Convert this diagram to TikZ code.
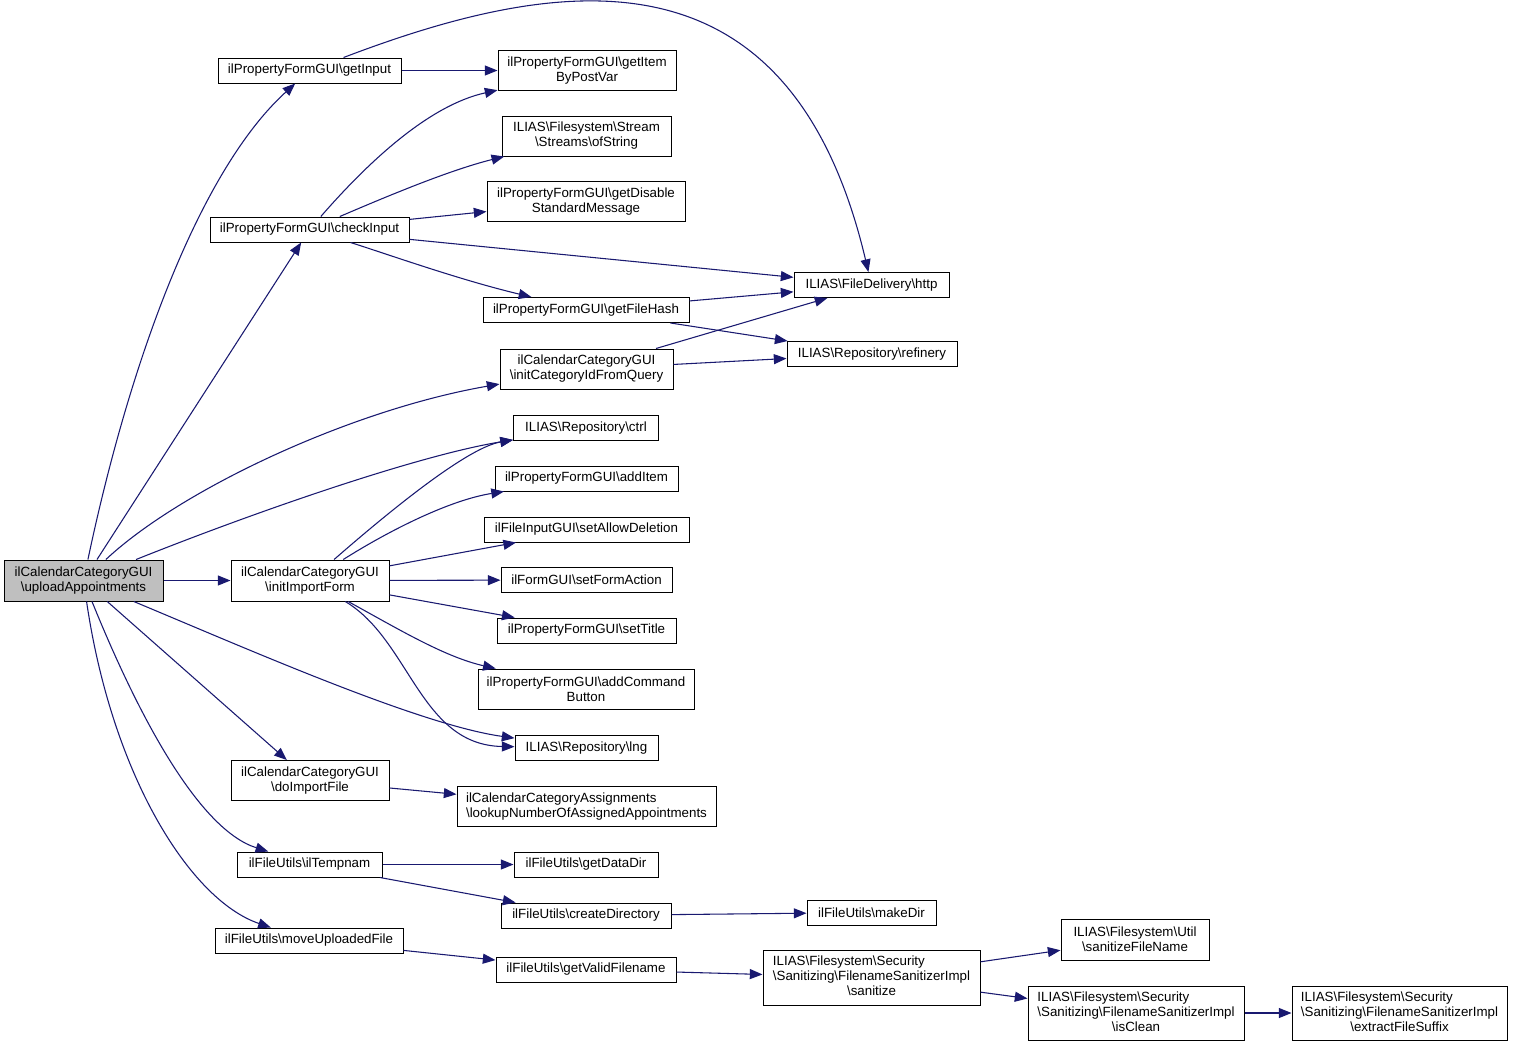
\documentclass[tikz,border=0pt]{standalone}
\usepackage{fontspec}
\setmainfont{Liberation Sans}
\usetikzlibrary{arrows.meta}
\definecolor{edgeblue}{HTML}{191970}
\newcommand{\bsl}{\textbackslash}
\newcommand{\threeln}[3]{\begin{tabular}{@{}l@{}}#1\\#2\\\multicolumn{1}{@{}c@{}}{#3}\end{tabular}}
\tikzstyle{fn_node} = [
    draw=black,
    fill=white,
    text=black,
    line width=0.75pt,
    font=\fontsize{10pt}{11.25pt}\selectfont,
    align=center,
    inner sep=2pt % boxes get their size from minimum width/height
]
\tikzstyle{cur_node} = [
    fn_node,
    fill=black!25
]
\tikzstyle{call} = [
    draw=edgeblue,
    line width=0.8pt,
    -{Triangle[length=9.5pt, width=7.5pt]}
]
\begin{document}
\begin{tikzpicture}[x=0.75pt, y=-0.75pt]
\fill[white] (0,0) rectangle (1513,1047);
\useasboundingbox (0,0) rectangle (1513,1047);

% column 1
\node [cur_node, minimum width=119.25pt, minimum height=30.75pt] (upload) at (83.5,580.5) {ilCalendarCategoryGUI\\\bsl uploadAppointments};

% column 2
\node [fn_node, minimum width=137.25pt, minimum height=18.75pt] (getInput) at (309.5,70.5) {ilPropertyFormGUI\bsl getInput};
\node [fn_node, minimum width=149.25pt, minimum height=18.75pt] (checkInput) at (309.5,229.5) {ilPropertyFormGUI\bsl checkInput};
\node [fn_node, minimum width=118.5pt, minimum height=30.75pt] (initImport) at (310,580.5) {ilCalendarCategoryGUI\\\bsl initImportForm};
\node [fn_node, minimum width=118.5pt, minimum height=30pt] (doImport) at (310,780.5) {ilCalendarCategoryGUI\\\bsl doImportFile};
\node [fn_node, minimum width=108.75pt, minimum height=18.75pt] (tempnam) at (309.5,864.5) {ilFileUtils\bsl ilTempnam};
\node [fn_node, minimum width=141pt, minimum height=18.75pt] (moveFile) at (309,940.5) {ilFileUtils\bsl moveUploadedFile};

% column 3
\node [fn_node, minimum width=133.5pt, minimum height=30pt] (getItem) at (587,70.5) {ilPropertyFormGUI\bsl getItem\\ByPostVar};
\node [fn_node, minimum width=126.75pt, minimum height=30pt] (ofString) at (586.5,136) {ILIAS\bsl Filesystem\bsl Stream\\\bsl Streams\bsl ofString};
\node [fn_node, minimum width=148.5pt, minimum height=30pt] (getDisable) at (586,201.5) {ilPropertyFormGUI\bsl getDisable\\StandardMessage};
\node [fn_node, minimum width=154.5pt, minimum height=18.75pt] (getFileHash) at (586,310) {ilPropertyFormGUI\bsl getFileHash};
\node [fn_node, minimum width=129.75pt, minimum height=30pt] (initCatId) at (586.5,369) {ilCalendarCategoryGUI\\\bsl initCategoryIdFromQuery};
\node [fn_node, minimum width=108.75pt, minimum height=18.75pt] (ctrl) at (586,428) {ILIAS\bsl Repository\bsl ctrl};
\node [fn_node, minimum width=137.25pt, minimum height=18.75pt] (addItem) at (586.5,478.5) {ilPropertyFormGUI\bsl addItem};
\node [fn_node, minimum width=153.75pt, minimum height=18.75pt] (setAllowDel) at (586.5,529.5) {ilFileInputGUI\bsl setAllowDeletion};
\node [fn_node, minimum width=128.25pt, minimum height=18.75pt] (setFormAction) at (586.5,580) {ilFormGUI\bsl setFormAction};
\node [fn_node, minimum width=134.25pt, minimum height=18.75pt] (setTitle) at (586.5,630.5) {ilPropertyFormGUI\bsl setTitle};
\node [fn_node, minimum width=162pt, minimum height=30pt] (addCmdBtn) at (586,689) {ilPropertyFormGUI\bsl addCommand\\Button};
\node [fn_node, minimum width=107.25pt, minimum height=18.75pt] (lng) at (586.5,748) {ILIAS\bsl Repository\bsl lng};
\node [fn_node, minimum width=194.25pt, minimum height=30pt, align=left] (lookupNum) at (586.5,806.5) {ilCalendarCategoryAssignments\\\bsl lookupNumberOfAssignedAppointments};
\node [fn_node, minimum width=108pt, minimum height=18.75pt] (getDataDir) at (586,864.5) {ilFileUtils\bsl getDataDir};
\node [fn_node, minimum width=127.5pt, minimum height=18.75pt] (createDir) at (586,915.5) {ilFileUtils\bsl createDirectory};
\node [fn_node, minimum width=135pt, minimum height=18.75pt] (getValidName) at (586,969.5) {ilFileUtils\bsl getValidFilename};

% column 4
\node [fn_node, minimum width=116.25pt, minimum height=18.75pt] (http) at (871.5,285) {ILIAS\bsl FileDelivery\bsl http};
\node [fn_node, minimum width=127.5pt, minimum height=18.75pt] (refinery) at (872,354) {ILIAS\bsl Repository\bsl refinery};
\node [fn_node, minimum width=96.75pt, minimum height=18.75pt] (makeDir) at (871.5,912.5) {ilFileUtils\bsl makeDir};
\node [fn_node, minimum width=162.75pt, minimum height=41.25pt] (sanitize) at (871.5,977.5) {\threeln{ILIAS\bsl Filesystem\bsl Security}{\bsl Sanitizing\bsl FilenameSanitizerImpl}{\bsl sanitize}};

% column 5 and 6
\node [fn_node, minimum width=111pt, minimum height=30.75pt] (sanitizeName) at (1135,939.5) {ILIAS\bsl Filesystem\bsl Util\\\bsl sanitizeFileName};
\node [fn_node, minimum width=162pt, minimum height=40.5pt] (isClean) at (1136,1013) {\threeln{ILIAS\bsl Filesystem\bsl Security}{\bsl Sanitizing\bsl FilenameSanitizerImpl}{\bsl isClean}};
\node [fn_node, minimum width=161.25pt, minimum height=40.5pt] (extractSuffix) at (1399.5,1013) {\threeln{ILIAS\bsl Filesystem\bsl Security}{\bsl Sanitizing\bsl FilenameSanitizerImpl}{\bsl extractFileSuffix}};

% calls from uploadAppointments
\draw [call] (upload) .. controls (130,360) and (200,170) .. (getInput);
\draw [call] (upload) -- (checkInput);
\draw [call] (upload) .. controls (180,490) and (350,410) .. (initCatId);
\draw [call] (upload) .. controls (260,510) and (420,455) .. (ctrl);
\draw [call] (upload) -- (initImport);
\draw [call] (upload) .. controls (250,650) and (420,725) .. (lng);
\draw [call] (upload) -- (doImport);
\draw [call] (upload) .. controls (140,720) and (200,830) .. (tempnam);
\draw [call] (upload) .. controls (112,775) and (190,900) .. (moveFile);

% getInput / checkInput
\draw [call] (getInput) -- (getItem);
\draw [call] (getInput) .. controls (560,-25) and (790,-60) .. (http);
\draw [call] (checkInput) .. controls (370,160) and (430,105) .. (getItem);
\draw [call] (checkInput) .. controls (390,195) and (450,170) .. (ofString);
\draw [call] (checkInput) -- (getDisable);
\draw [call] (checkInput) -- (http);
\draw [call] (checkInput) .. controls (390,255) and (460,280) .. (getFileHash);
\draw [call] (getFileHash) -- (http);
\draw [call] (getFileHash) -- (refinery);
\draw [call] (initCatId) -- (http);
\draw [call] (initCatId) -- (refinery);

% initImportForm
\draw [call] (initImport) .. controls (400,502) and (470,447) .. (ctrl);
\draw [call] (initImport) .. controls (390,530) and (450,500) .. (addItem);
\draw [call] (initImport) -- (setAllowDel);
\draw [call] (initImport) -- (setFormAction);
\draw [call] (initImport) -- (setTitle);
\draw [call] (initImport) .. controls (400,630) and (445,657) .. (addCmdBtn);
\draw [call] (initImport) .. controls (410,640) and (420,745) .. (lng);

% file handling
\draw [call] (doImport) -- (lookupNum);
\draw [call] (tempnam) -- (getDataDir);
\draw [call] (tempnam) -- (createDir);
\draw [call] (createDir) -- (makeDir);
\draw [call] (moveFile) -- (getValidName);
\draw [call] (getValidName) -- (sanitize);
\draw [call] (sanitize) -- (sanitizeName);
\draw [call] (sanitize) -- (isClean);
\draw [call] (isClean) -- (extractSuffix);
\end{tikzpicture}
\end{document}
